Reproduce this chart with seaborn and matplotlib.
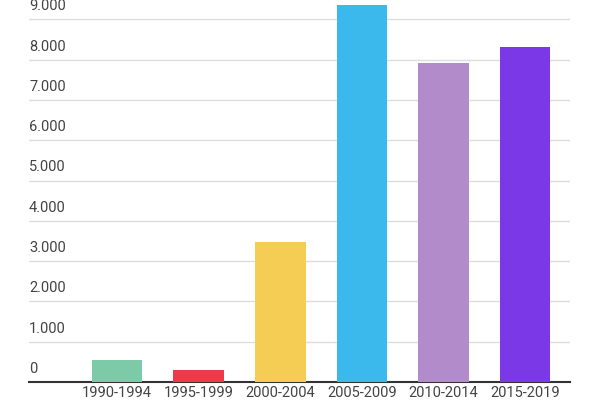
import matplotlib
matplotlib.use("Agg")
import matplotlib.pyplot as plt
import seaborn as sns

# values
periods = ["1990-1994", "1995-1999", "2000-2004", "2005-2009", "2010-2014", "2015-2019"]
counts = [545, 300, 3470, 9350, 7915, 8310]
colors = ["#7ccaa8", "#ee3a48", "#f5cd55", "#3bb8ec", "#b18bca", "#7a38e6"]
y_ticks = [0, 1000, 2000, 3000, 4000, 5000, 6000, 7000, 8000, 9000]

sns.set_style("white")
plt.rcParams["font.family"] = ["Roboto", "DejaVu Sans"]

fig = plt.figure(figsize=(6, 4), dpi=100)
ax = fig.add_axes([29 / 600, 18 / 400, 541 / 600, 382 / 400])

sns.barplot(x=periods, y=counts, hue=periods, palette=colors, legend=False,
            width=0.62, saturation=1, linewidth=0, ax=ax, zorder=3)

ax.set_xlim(-1.08, 5.55)
ax.set_ylim(0, 9480)
ax.set_yticks(y_ticks)
ax.set_yticklabels([])
ax.tick_params(axis="y", length=0)
ax.tick_params(axis="x", length=0, labelsize=10.5, colors="#444444", pad=3)
ax.grid(axis="y", color="#dddddd", linewidth=1, zorder=0)
for t in y_ticks:
    ax.text(0, t + 150, f"{t:,}".replace(",", "."), transform=ax.get_yaxis_transform(),
            ha="left", va="bottom", fontsize=10.5, color="#444444")

for s in ["top", "right", "left"]:
    ax.spines[s].set_visible(False)
ax.spines["bottom"].set_color("#333333")
ax.spines["bottom"].set_linewidth(1.5)
ax.set_xlabel("")
ax.set_ylabel("")

fig.savefig("out.png", dpi=100)
